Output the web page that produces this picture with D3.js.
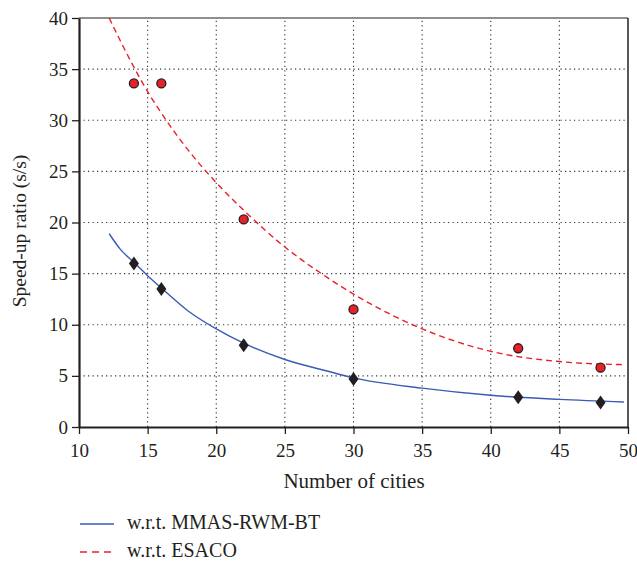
<!DOCTYPE html>
<html>
<head>
<meta charset="utf-8">
<style>
  body { margin: 0; background: #fff; }
  text { font-family: "Liberation Serif", "DejaVu Serif", serif; fill: #231f20; }
</style>
<script src="https://cdn.jsdelivr.net/npm/d3@7/dist/d3.min.js"></script>
</head>
<body>
<script>
// measured points
var cities = [14, 16, 22, 30, 42, 48];
var mmasPts = [16, 13.5, 8, 4.7, 2.9, 2.4];
var esacoPts = [33.6, 33.6, 20.3, 11.5, 7.7, 5.8];

// fitted curves
var curveX = [12.2, 13, 14, 15, 16, 18, 20, 22, 25, 28, 30, 35, 40, 45, 49.7];
var mmasCurve = [18.9, 17.4, 16.1, 14.8, 13.6, 11.3, 9.6, 8.2, 6.6, 5.5, 4.8, 3.8, 3.1, 2.7, 2.45];
var esacoCurve = [40, 37.8, 35.2, 32.8, 30.7, 27, 23.9, 21.2, 17.6, 14.7, 13.0, 9.6, 7.4, 6.4, 6.1];

var xTicks = [10, 15, 20, 25, 30, 35, 40, 45, 50];
var yTicks = [0, 5, 10, 15, 20, 25, 30, 35, 40];
var legendLabels = ["w.r.t. MMAS-RWM-BT", "w.r.t. ESACO"];

var W = 637, H = 561;
var margin = {top: 18, right: 9, bottom: 134, left: 79};

var svg = d3.select("body").append("svg")
  .attr("width", W).attr("height", H);

var x = d3.scaleLinear().domain([10, 50]).range([margin.left, W - margin.right]);
var y = d3.scaleLinear().domain([0, 40]).range([H - margin.bottom, margin.top]);

// grid
var grid = svg.append("g").attr("stroke", "#333").attr("stroke-width", 1.1)
  .attr("stroke-dasharray", "1.2,3.3");
grid.selectAll(".vg").data(xTicks.slice(1, -1)).enter().append("line")
  .attr("x1", d => x(d)).attr("x2", d => x(d))
  .attr("y1", y(0)).attr("y2", y(40));
grid.selectAll(".hg").data(yTicks.slice(1, -1)).enter().append("line")
  .attr("y1", d => y(d)).attr("y2", d => y(d))
  .attr("x1", x(10)).attr("x2", x(50));

// top and right frame
svg.append("line").attr("x1", x(10)).attr("x2", x(50)).attr("y1", y(40)).attr("y2", y(40))
  .attr("stroke", "#231f20").attr("stroke-width", 1.2);
svg.append("line").attr("x1", x(50)).attr("x2", x(50)).attr("y1", y(40)).attr("y2", y(0))
  .attr("stroke", "#231f20").attr("stroke-width", 1.5);

// axes
var xAxis = svg.append("g").attr("transform", "translate(0," + y(0) + ")")
  .call(d3.axisBottom(x).tickValues(xTicks).tickSize(7).tickPadding(10).tickSizeOuter(0));
var yAxis = svg.append("g").attr("transform", "translate(" + x(10) + ",0)")
  .call(d3.axisLeft(y).tickValues(yTicks).tickSize(7).tickPadding(4).tickSizeOuter(0));
[xAxis, yAxis].forEach(function(a) {
  a.select(".domain").attr("stroke", "#231f20").attr("stroke-width", 2.2);
  a.selectAll(".tick line").attr("stroke", "#231f20").attr("stroke-width", 1.3);
  a.selectAll(".tick text").style("font-size", "19px").attr("fill", "#231f20")
    .style("font-family", "'Liberation Serif', serif");
});

// curves
var line = d3.line().x(d => x(d[0])).y(d => y(d[1])).curve(d3.curveMonotoneX);
svg.append("path").datum(d3.zip(curveX, mmasCurve)).attr("d", line)
  .attr("fill", "none").attr("stroke", "#3a5bb5").attr("stroke-width", 1.4);
svg.append("path").datum(d3.zip(curveX, esacoCurve)).attr("d", line)
  .attr("fill", "none").attr("stroke", "#e8202a").attr("stroke-width", 1.4)
  .attr("stroke-dasharray", "6,4");

// markers
var diamond = "M0,-7L5,0L0,7L-5,0Z";
svg.selectAll(".dia").data(d3.zip(cities, mmasPts)).enter().append("path")
  .attr("d", diamond)
  .attr("transform", d => "translate(" + x(d[0]) + "," + y(d[1]) + ")")
  .attr("fill", "#231f20");
svg.selectAll(".circ").data(d3.zip(cities, esacoPts)).enter().append("circle")
  .attr("cx", d => x(d[0])).attr("cy", d => y(d[1])).attr("r", 4.5)
  .attr("fill", "#e8202a").attr("stroke", "#231f20").attr("stroke-width", 1.3);

// axis titles
svg.append("text").attr("x", 354).attr("y", 488).attr("text-anchor", "middle")
  .style("font-size", "21px").text("Number of cities");
svg.append("text").attr("transform", "translate(26,231) rotate(-90)")
  .attr("text-anchor", "middle").style("font-size", "19.5px").text("Speed-up ratio (s/s)");

// legend
var leg = svg.append("g");
leg.append("line").attr("x1", 80).attr("x2", 114).attr("y1", 524).attr("y2", 524)
  .attr("stroke", "#3a5bb5").attr("stroke-width", 1.4);
leg.append("line").attr("x1", 80).attr("x2", 114).attr("y1", 552).attr("y2", 552)
  .attr("stroke", "#e8202a").attr("stroke-width", 1.4).attr("stroke-dasharray", "7,5");
leg.selectAll("text").data(legendLabels).enter().append("text")
  .attr("x", 127).attr("y", (d, i) => 529 + i * 28)
  .style("font-size", "20px").text(d => d);
</script>
</body>
</html>
